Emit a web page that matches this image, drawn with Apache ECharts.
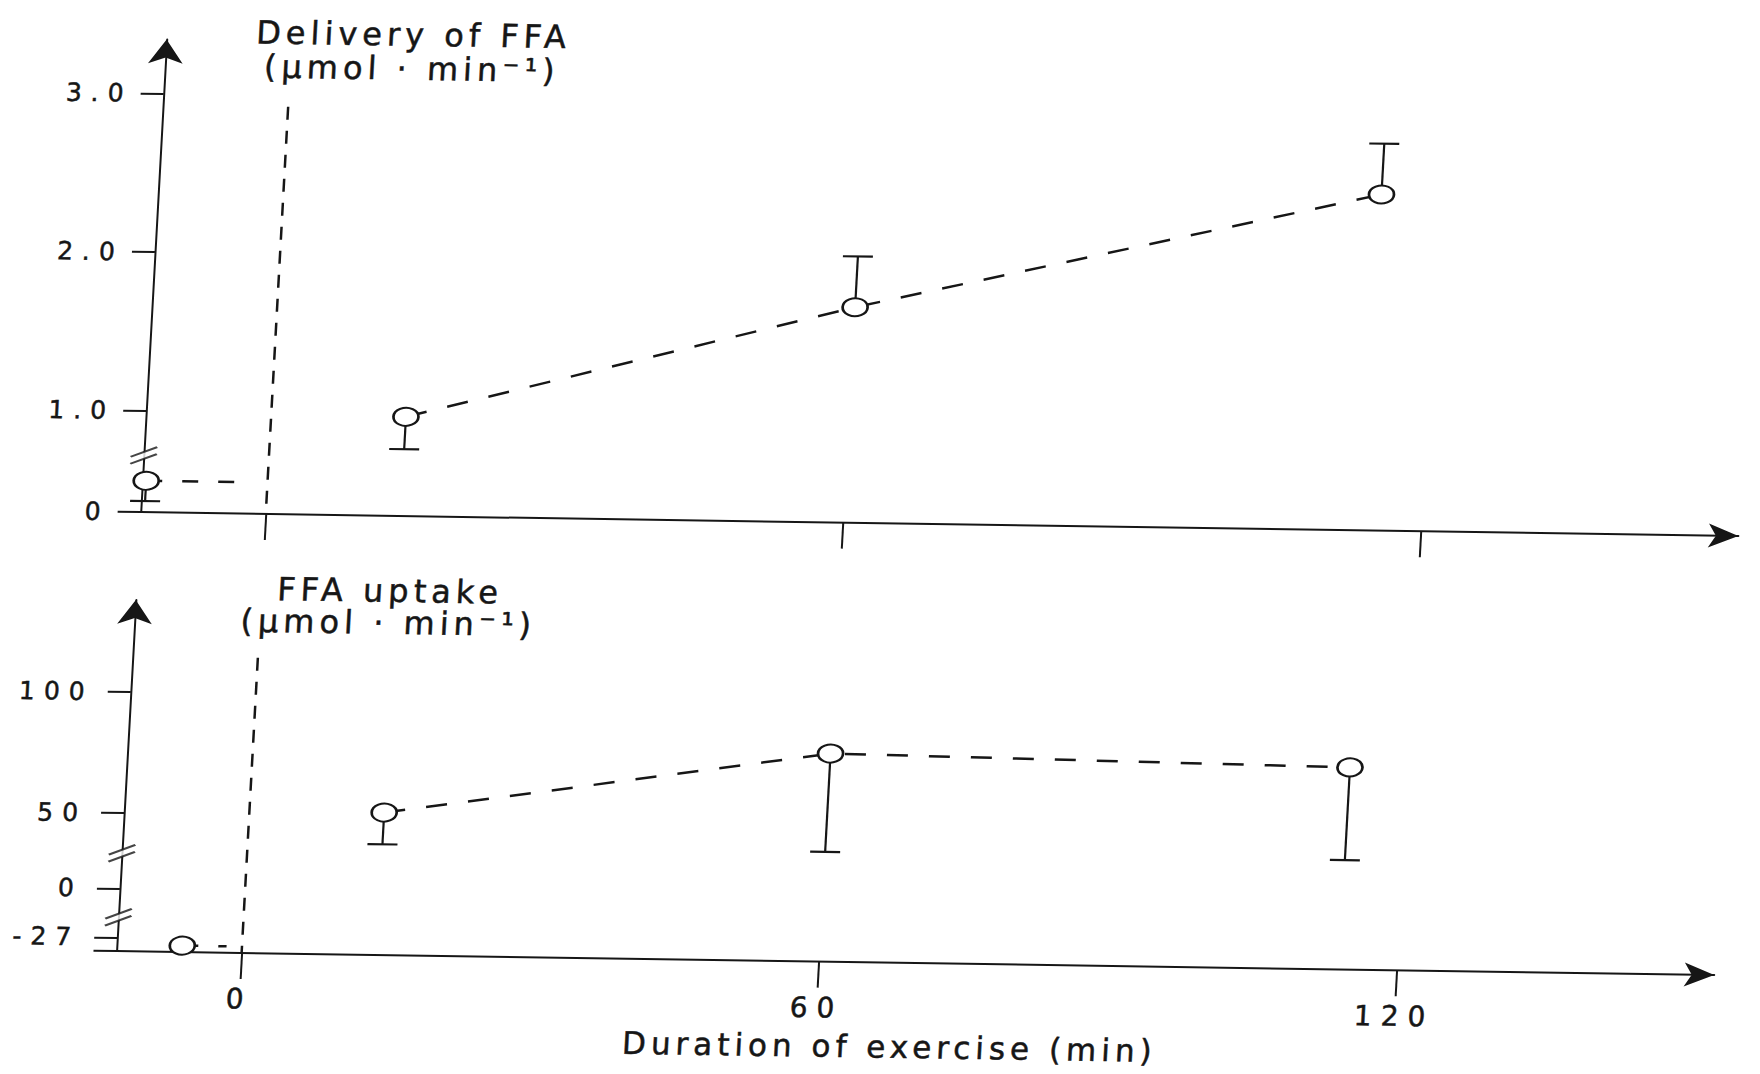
<!DOCTYPE html>
<html>
<head>
<meta charset="utf-8">
<title>FFA delivery and uptake during exercise</title>
<script src="https://cdn.jsdelivr.net/npm/echarts@6.0.0/dist/echarts.min.js"></script>
<style>
  html, body { margin: 0; padding: 0; background: #fff; overflow: hidden; }
  /* the scanned figure is slightly sheared, so the whole drawing is too */
  #chart { width: 1760px; height: 1074px; transform: matrix(1, 0.015, -0.055, 1, 30, -13); transform-origin: 0 0; }
  #chart text { letter-spacing: 5px; stroke: #161616; stroke-width: 0.5px; }
  #chart text[style*="25px"], #chart text[style*="28px"] { letter-spacing: 9px; }
</style>
</head>
<body>
<div id="chart"></div>
<script>
// minutes of exercise; the rest sample sits left of 0
const exerciseMin = [14, 60, 114];
const timeTicks = [0, 60, 120];

// delivery of FFA (µmol·min-1)
const deliveryMean = [0.98, 1.72, 2.48];
const deliveryErrEnd = [0.66, 2.04, 2.80];
const deliveryRestPoint = [-12.6, 0.31];
const deliveryRestErrEnd = 0.11;
const deliveryRestLineEnd = -2.75;
const deliveryStartLineTop = 2.93;
const deliveryTicks = [0, 1, 2, 3];
const deliveryTickLabels = ['0', '1.0', '2.0', '3.0'];
// broken axis: real value -> plotted value
const deliveryBreakReal = [0, 1];
const deliveryBreakAxis = [0.362, 1];
const deliveryBreakMarks = [0.56];

// FFA uptake (µmol·min-1)
const uptakeMean = [51.9, 79.0, 76.5];
const uptakeErrEnd = [38.8, 38.4, 38.2];
const uptakeRestPoint = [-6.2, -30];
const uptakeRestLineEnd = -1.6;
const uptakeStartLineTop = 115;
const uptakeTicks = [-27, 0, 50, 100];
const uptakeTickLabels = ['-27', '0', '50', '100'];
const uptakeBreakReal = [-27, 0, 33.5];
const uptakeBreakAxis = [-1.24, 19, 33.5];
const uptakeBreakMarks = [-15.9, 33.5];

const X_MIN = -13, X_MAX = 153;
const INK = '#161616';
const FONT = 'DejaVu Sans, Liberation Sans, sans-serif';

function toAxis(v, realK, axisK) {
    const n = realK.length;
    if (v <= realK[0]) return axisK[0] + (v - realK[0]);
    if (v >= realK[n - 1]) return axisK[n - 1] + (v - realK[n - 1]);
    for (let i = 0; i < n - 1; i++) {
        if (v <= realK[i + 1]) {
            const t = (v - realK[i]) / (realK[i + 1] - realK[i]);
            return axisK[i] + t * (axisK[i + 1] - axisK[i]);
        }
    }
}
const dAx = v => toAxis(v, deliveryBreakReal, deliveryBreakAxis);
const uAx = v => toAxis(v, uptakeBreakReal, uptakeBreakAxis);

function tickFormatter(ticks, labels, fn) {
    return function (val) {
        for (let i = 0; i < ticks.length; i++) {
            if (Math.abs(fn(ticks[i]) - val) < 1e-6) return labels[i];
        }
        return '';
    };
}

const lineStyle = { color: INK, width: 2 };

function xAxisFor(gridIndex, showLabels) {
    return {
        type: 'value', gridIndex: gridIndex, min: X_MIN, max: X_MAX,
        splitLine: { show: false },
        axisLine: { show: true, onZero: false, symbol: ['none', 'arrow'], symbolSize: [18, 30], lineStyle: lineStyle },
        axisTick: { show: true, inside: false, length: 26, customValues: timeTicks, lineStyle: lineStyle },
        axisLabel: { show: showLabels, customValues: timeTicks, margin: 32, fontSize: 28, color: INK, fontFamily: FONT }
    };
}

function yAxisFor(gridIndex, min, max, ticks, labels, fn, extraTicks, margin) {
    return {
        type: 'value', gridIndex: gridIndex, min: min, max: max,
        splitLine: { show: false },
        axisLine: { show: true, onZero: false, symbol: ['none', 'arrow'], symbolSize: [26, 24], lineStyle: lineStyle },
        axisTick: { show: true, inside: false, length: 23, customValues: ticks.map(fn).concat(extraTicks), lineStyle: lineStyle },
        axisLabel: {
            customValues: ticks.map(fn), formatter: tickFormatter(ticks, labels, fn),
            margin: margin, fontSize: 25, color: INK, fontFamily: FONT
        }
    };
}

function renderErrorBar(params, api) {
    const top = api.coord([api.value(0), api.value(1)]);
    const end = api.coord([api.value(0), api.value(2)]);
    const style = { stroke: INK, lineWidth: 2.2 };
    return {
        type: 'group',
        children: [
            { type: 'line', shape: { x1: top[0], y1: top[1], x2: end[0], y2: end[1] }, style: style },
            { type: 'line', shape: { x1: end[0] - 15, y1: end[1], x2: end[0] + 15, y2: end[1] }, style: style }
        ]
    };
}

const pointStyle = { color: '#fff', borderColor: INK, borderWidth: 2.3 };
const pointSize = [25, 18];

function panelSeries(idx, mean, errEnd, restPoint, restErrEnd, restLineEnd, startTop, yMin, breaks, fn) {
    const bars = exerciseMin.map((m, i) => [m, fn(mean[i]), fn(errEnd[i])]);
    if (restErrEnd !== null) bars.push([restPoint[0], fn(restPoint[1]), fn(restErrEnd)]);
    const restY = fn(restPoint[1]);
    return [
        {
            type: 'line', xAxisIndex: idx, yAxisIndex: idx, z: 1, silent: true, showSymbol: false,
            data: [[0, fn(startTop)], [0, yMin]],
            lineStyle: { color: INK, width: 2.5, type: [13, 11] }
        },
        {
            type: 'custom', xAxisIndex: idx, yAxisIndex: idx, z: 2, silent: true, clip: false,
            encode: { x: 0, y: [1, 2] },
            renderItem: renderErrorBar, data: bars
        },
        {
            type: 'line', xAxisIndex: idx, yAxisIndex: idx, z: 3, silent: true, clip: false,
            data: exerciseMin.map((m, i) => [m, fn(mean[i])]),
            symbol: 'circle', symbolSize: pointSize, itemStyle: pointStyle,
            lineStyle: { color: INK, width: 2.5, type: [21, 21] }
        },
        {
            type: 'line', xAxisIndex: idx, yAxisIndex: idx, z: 3, silent: true, clip: false,
            data: [[restPoint[0], restY], { value: [restLineEnd, restY], symbol: 'none' }],
            symbol: 'circle', symbolSize: pointSize, itemStyle: pointStyle,
            lineStyle: { color: INK, width: 2.5, type: [16, 20] }
        },
        {
            type: 'scatter', xAxisIndex: idx, yAxisIndex: idx, z: 4, silent: true, clip: false,
            data: breaks.map(b => [X_MIN, fn(b)]),
            symbol: 'path://M0,10L26,0L26,7L0,17Z', symbolSize: [26, 17],
            itemStyle: { color: '#fff', borderWidth: 0 }
        },
        {
            type: 'scatter', xAxisIndex: idx, yAxisIndex: idx, z: 5, silent: true, clip: false,
            data: breaks.map(b => [X_MIN, fn(b)]),
            symbol: 'path://M0,10L26,0M0,17L26,7', symbolSize: [26, 17],
            itemStyle: { color: 'rgba(0,0,0,0)', borderColor: INK, borderWidth: 2.4 }
        }
    ];
}

const chart = echarts.init(document.getElementById('chart'), null, { renderer: 'svg' });

const titleStyle = { fontSize: 32, fontWeight: 'normal', color: INK, fontFamily: FONT };

const topYMin = dAx(0), topYMax = 3.341;
const botYMin = -6.9, botYMax = 138;

chart.setOption({
    animation: false,
    backgroundColor: '#fff',
    title: [
        { text: 'Delivery of FFA\n(μmol · min⁻¹)', left: 381, top: 20, textAlign: 'center',
          textStyle: Object.assign({ lineHeight: 34 }, titleStyle) },
        { text: 'FFA uptake\n(μmol · min⁻¹)', left: 388, top: 577, textAlign: 'center',
          textStyle: Object.assign({ lineHeight: 32 }, titleStyle) },
        { text: 'Duration of exercise (min)', left: 912, top: 1024, textAlign: 'center',
          textStyle: Object.assign({ lineHeight: 34 }, titleStyle, { fontSize: 31 }) }
    ],
    grid: [
        { left: 139.4, right: 22.85, top: 50.5, height: 472.5, containLabel: false, outerBoundsMode: 'none' },
        { left: 139.4, right: 22.85, top: 611, height: 351, containLabel: false, outerBoundsMode: 'none' }
    ],
    xAxis: [xAxisFor(0, false), xAxisFor(1, true)],
    yAxis: [
        yAxisFor(0, topYMin, topYMax, deliveryTicks, deliveryTickLabels, dAx, [], 31),
        yAxisFor(1, botYMin, botYMax, uptakeTicks, uptakeTickLabels, uAx, [botYMin], 37)
    ],
    series: [].concat(
        panelSeries(0, deliveryMean, deliveryErrEnd, deliveryRestPoint, deliveryRestErrEnd,
            deliveryRestLineEnd, deliveryStartLineTop, topYMin, deliveryBreakMarks, dAx),
        panelSeries(1, uptakeMean, uptakeErrEnd, uptakeRestPoint, null,
            uptakeRestLineEnd, uptakeStartLineTop, botYMin, uptakeBreakMarks, uAx)
    )
});
</script>
</body>
</html>
